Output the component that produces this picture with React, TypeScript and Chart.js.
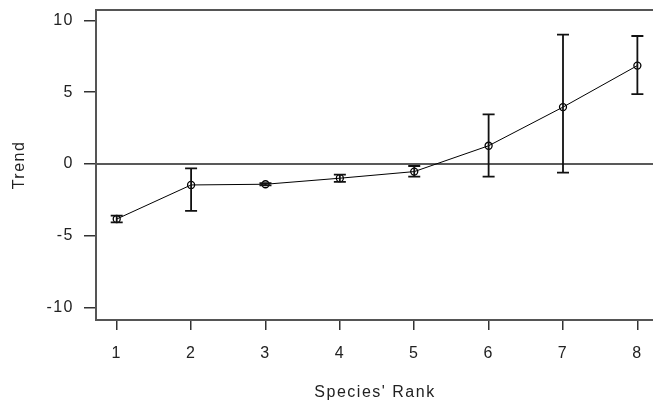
import React, { useEffect, useRef } from "react";
import { Chart, registerables } from "chart.js";

Chart.register(...registerables);

const ranks = [1, 2, 3, 4, 5, 6, 7, 8];
const trend = [-3.83, -1.46, -1.41, -0.99, -0.53, 1.27, 3.96, 6.85];
const upper = [-3.6, -0.3, -1.33, -0.74, -0.14, 3.45, 9.01, 8.91];
const lower = [-4.06, -3.26, -1.49, -1.25, -0.88, -0.88, -0.6, 4.86];
const xTicks = [1, 2, 3, 4, 5, 6, 7, 8];
const yTicks = [-10, -5, 0, 5, 10];
const xTitle = "Species' Rank";
const yTitle = "Trend";

const FONT = "'Liberation Sans', Arial, sans-serif";
const TEXT = "#222";
const SPACING = "1.5px";

const spacingPlugin = {
  id: "spacing",
  beforeUpdate(chart: any) {
    chart.ctx.letterSpacing = SPACING;
  },
  beforeDraw(chart: any) {
    chart.ctx.letterSpacing = SPACING;
  },
};

const framePlugin = {
  id: "frame",
  beforeDatasetsDraw(chart: any) {
    const { ctx, chartArea: a, scales } = chart;
    ctx.save();
    const y0 = scales.y.getPixelForValue(0);
    ctx.strokeStyle = "#222";
    ctx.lineWidth = 1.5;
    ctx.beginPath();
    ctx.moveTo(a.left, y0);
    ctx.lineTo(a.right, y0);
    ctx.stroke();
    ctx.strokeStyle = "#555";
    ctx.lineWidth = 2;
    ctx.beginPath();
    ctx.moveTo(a.right + 2, a.top);
    ctx.lineTo(a.left - 1, a.top);
    ctx.lineTo(a.left - 1, a.bottom);
    ctx.lineTo(a.right + 2, a.bottom);
    ctx.stroke();
    ctx.restore();
  },
  afterDatasetsDraw(chart: any) {
    const { ctx, scales } = chart;
    ctx.save();
    ctx.strokeStyle = "#111";
    ctx.lineWidth = 1.8;
    const cap = 6;
    ranks.forEach((r, i) => {
      const x = scales.x.getPixelForValue(r);
      const yt = scales.y.getPixelForValue(upper[i]);
      const yb = scales.y.getPixelForValue(lower[i]);
      ctx.beginPath();
      ctx.moveTo(x, yt);
      ctx.lineTo(x, yb);
      ctx.moveTo(x - cap, yt);
      ctx.lineTo(x + cap, yt);
      ctx.moveTo(x - cap, yb);
      ctx.lineTo(x + cap, yb);
      ctx.stroke();
    });
    ctx.restore();
  },
};

export default function App() {
  const ref = useRef<HTMLCanvasElement | null>(null);
  useEffect(() => {
    if (!ref.current) return;
    const chart = new Chart(ref.current, {
      type: "line",
      data: {
        datasets: [
          {
            data: ranks.map((r, i) => ({ x: r, y: trend[i] })),
            borderColor: "#000",
            borderWidth: 1,
            pointRadius: 3.5,
            pointBorderWidth: 1.3,
            pointBorderColor: "#000",
            pointBackgroundColor: "rgba(0,0,0,0)",
            fill: false,
            tension: 0,
          },
        ],
      },
      plugins: [spacingPlugin, framePlugin],
      options: {
        animation: false,
        responsive: false,
        devicePixelRatio: 1,
        layout: { autoPadding: false, padding: { left: 0, right: 0, top: 10, bottom: 0 } },
        plugins: { legend: { display: false }, tooltip: { enabled: false } },
        scales: {
          x: {
            type: "linear",
            min: 0.735,
            max: 8.21,
            afterBuildTicks: (s: any) => {
              s.ticks = xTicks.map((v) => ({ value: v }));
            },
            afterFit: (s: any) => {
              s.height = 82;
              s.paddingLeft = 0;
              s.paddingRight = 0;
            },
            grid: {
              drawOnChartArea: false,
              drawTicks: true,
              tickLength: 10,
              color: "#333",
              lineWidth: 1.5,
            },
            border: { display: false },
            ticks: {
              color: TEXT,
              font: { family: FONT, size: 16 },
              padding: 14,
              maxRotation: 0,
              autoSkip: false,
              callback: (v: any) => String(v),
            },
            title: {
              display: true,
              text: xTitle,
              color: TEXT,
              font: { family: FONT, size: 16 },
              padding: { top: 0, bottom: 0 },
            },
          },
          y: {
            type: "linear",
            min: -10.86,
            max: 10.72,
            afterBuildTicks: (s: any) => {
              s.ticks = yTicks.map((v) => ({ value: v }));
            },
            afterFit: (s: any) => {
              s.width = 97;
              s.paddingTop = 0;
              s.paddingBottom = 0;
            },
            grid: {
              drawOnChartArea: false,
              drawTicks: true,
              tickLength: 13,
              color: "#333",
              lineWidth: 1.5,
            },
            border: { display: false },
            ticks: {
              color: TEXT,
              font: { family: FONT, size: 16 },
              padding: 10,
              autoSkip: false,
              callback: (v: any) => String(v),
            },
            title: {
              display: true,
              text: yTitle,
              color: TEXT,
              font: { family: FONT, size: 16 },
              padding: { top: 10, bottom: 0 },
            },
          },
        },
      },
    });
    return () => chart.destroy();
  }, []);
  return (
    <div style={{ position: "fixed", left: 0, top: 0, width: 653, height: 402, background: "#fff" }}>
      <canvas ref={ref} width={653} height={402} style={{ display: "block" }} />
    </div>
  );
}
